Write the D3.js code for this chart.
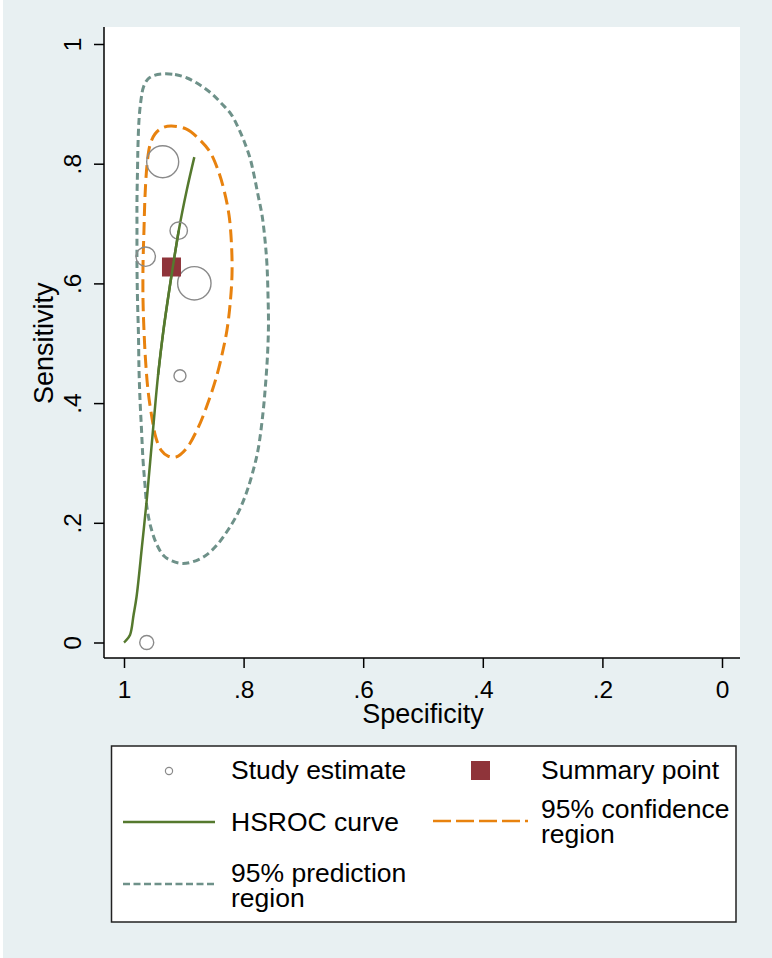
<!DOCTYPE html>
<html>
<head>
<meta charset="utf-8">
<script src="https://cdn.jsdelivr.net/npm/d3@7"></script>
<style>
  html, body { margin: 0; padding: 0; background: #ffffff; }
  svg { display: block; }
  text { font-family: "Liberation Sans", Arial, Helvetica, sans-serif; fill: #000; }
</style>
</head>
<body>
<svg id="chart" width="772" height="958"></svg>
<script>
// Individual study estimates: specificity, sensitivity and study weight (bubble area)
const studySpec = [0.9353, 0.9085, 0.9637, 0.8824, 0.9064, 0.9620];
const studySens = [0.8033, 0.6881, 0.6446, 0.6002, 0.4458, 0.0000];
const studyWeight = [25.6, 7.6, 9.4, 27.9, 3.6, 4.9];

// Summary operating point
const summarySpec = 0.9206;
const summarySens = 0.6274;

// HSROC curve
const hsrocSpec = [1.000, 0.9975, 0.990, 0.984, 0.979, 0.970, 0.962, 0.951, 0.943, 0.934, 0.920, 0.9085, 0.895, 0.8824];
const hsrocSens = [0.000, 0.0025, 0.0125, 0.046, 0.0765, 0.160, 0.238, 0.3606, 0.447, 0.522, 0.617, 0.688, 0.756, 0.811];

// 95% confidence region
const confSpec = [0.9214, 0.8963, 0.8729, 0.8562, 0.8428, 0.8328, 0.8244, 0.8202, 0.8194, 0.8227, 0.8278, 0.8344,
  0.8445, 0.8579, 0.8763, 0.8963, 0.9130, 0.9264, 0.9381, 0.9465, 0.9532, 0.9599, 0.9640, 0.9666, 0.9682,
  0.9682, 0.9666, 0.9649, 0.9615, 0.9565, 0.9482, 0.9365];
const confSens = [0.8630, 0.8580, 0.8396, 0.8196, 0.7895, 0.7561, 0.7143, 0.6642, 0.6140, 0.5639, 0.5221, 0.4887,
  0.4470, 0.4052, 0.3584, 0.3233, 0.3099, 0.3116, 0.3216, 0.3417, 0.3751, 0.4219, 0.4720, 0.5221, 0.5723,
  0.6307, 0.6892, 0.7444, 0.7978, 0.8312, 0.8496, 0.8596];

// 95% prediction region
const predSpec = [0.9365, 0.9147, 0.8946, 0.8729, 0.8528, 0.8361, 0.8211, 0.8094, 0.7993, 0.7893, 0.7826, 0.7759,
  0.7692, 0.7642, 0.7609, 0.7592, 0.7584, 0.7600, 0.7634, 0.7676, 0.7759, 0.7860, 0.7960, 0.8094, 0.8261,
  0.8445, 0.8645, 0.8863, 0.9030, 0.9197, 0.9331, 0.9448, 0.9548, 0.9615, 0.9649, 0.9682, 0.9707, 0.9732,
  0.9749, 0.9758, 0.9774, 0.9783, 0.9783, 0.9783, 0.9774, 0.9766, 0.9749, 0.9716, 0.9674, 0.9599, 0.9498];
const predSens = [0.9499, 0.9490, 0.9432, 0.9315, 0.9165, 0.8997, 0.8830, 0.8613, 0.8379, 0.8095, 0.7811, 0.7477,
  0.7143, 0.6725, 0.6307, 0.5806, 0.5305, 0.4804, 0.4302, 0.3835, 0.3216, 0.2799, 0.2481, 0.2164, 0.1880,
  0.1629, 0.1445, 0.1345, 0.1320, 0.1362, 0.1445, 0.1629, 0.1913, 0.2247, 0.2632, 0.3049, 0.3551, 0.4052,
  0.4553, 0.5138, 0.5723, 0.6307, 0.6892, 0.7393, 0.7895, 0.8312, 0.8730, 0.9064, 0.9282, 0.9415, 0.9474];

// Axis ticks
const xTicks = [1, 0.8, 0.6, 0.4, 0.2, 0];
const yTicks = [0, 0.2, 0.4, 0.6, 0.8, 1];
const tickLabel = v => (v === 0 ? "0" : v === 1 ? "1" : String(v).replace(/^0/, ""));

// Legend entries
const legendLabels = [["Study estimate"], ["Summary point"], ["HSROC curve"], ["95% confidence", "region"], ["95% prediction", "region"]];

const colors = {
  bg: "#e8f0f2",
  curve: "#55792e",
  conf: "#e8820e",
  pred: "#6e9189",
  summary: "#8f343a",
  study: "#8a8a8a"
};

const svg = d3.select("#chart");

// outer background
svg.append("rect").attr("x", 3).attr("y", 0).attr("width", 769).attr("height", 958).attr("fill", colors.bg);

// plot region
const plot = { left: 104, right: 740, top: 27, bottom: 658 };
svg.append("rect")
  .attr("x", plot.left).attr("y", plot.top)
  .attr("width", plot.right - plot.left).attr("height", plot.bottom - plot.top)
  .attr("fill", "#ffffff");

const x = d3.scaleLinear().domain([1, 0]).range([124, 722]);
const y = d3.scaleLinear().domain([0, 1]).range([642.5, 44]);
const r = d3.scaleSqrt().domain([0, d3.max(studyWeight)]).range([0, 16.7]);

// axes
const xAxis = d3.axisBottom(x).tickValues(xTicks).tickFormat(tickLabel).tickSize(10).tickSizeOuter(0);
const yAxis = d3.axisLeft(y).tickValues(yTicks).tickFormat(tickLabel).tickSize(10).tickSizeOuter(0);

const gx = svg.append("g").attr("transform", `translate(0,${plot.bottom})`).call(xAxis);
gx.select(".domain").remove();
gx.append("line").attr("x1", plot.left).attr("x2", plot.right).attr("y1", 0).attr("y2", 0)
  .attr("stroke", "#000").attr("stroke-width", 1.5);
gx.selectAll(".tick line").attr("stroke", "#000").attr("stroke-width", 1.5);
gx.selectAll(".tick text").attr("font-size", 24.5).attr("dy", null).attr("y", 40)
  .attr("font-family", "Liberation Sans, Arial, sans-serif").attr("fill", "#000");

const gy = svg.append("g").attr("transform", `translate(${plot.left},0)`).call(yAxis);
gy.select(".domain").remove();
gy.append("line").attr("x1", 0).attr("x2", 0).attr("y1", plot.top).attr("y2", plot.bottom)
  .attr("stroke", "#000").attr("stroke-width", 1.5);
gy.selectAll(".tick line").attr("stroke", "#000").attr("stroke-width", 1.5);
gy.selectAll(".tick text")
  .attr("font-size", 24.5).attr("font-family", "Liberation Sans, Arial, sans-serif").attr("fill", "#000")
  .attr("x", null).attr("dy", null)
  .attr("text-anchor", "middle")
  .attr("transform", "translate(-23,0) rotate(-90)");

// axis titles
svg.append("text").attr("x", 423).attr("y", 723).attr("text-anchor", "middle")
  .attr("font-size", 27).text("Specificity");
svg.append("text").attr("transform", `translate(53,${(y(0) + y(1)) / 2}) rotate(-90)`)
  .attr("text-anchor", "middle").attr("font-size", 27).text("Sensitivity");

// regions and curve
const toPts = (s, e) => s.map((v, i) => [x(v), y(e[i])]);
const closedLine = d3.line().curve(d3.curveCatmullRomClosed.alpha(0.5));
const openLine = d3.line().curve(d3.curveCatmullRom.alpha(0.5));

svg.append("path").attr("d", closedLine(toPts(predSpec, predSens)))
  .attr("fill", "none").attr("stroke", colors.pred).attr("stroke-width", 3)
  .attr("stroke-dasharray", "7,4");

svg.append("path").attr("d", closedLine(toPts(confSpec, confSens)))
  .attr("fill", "none").attr("stroke", colors.conf).attr("stroke-width", 3)
  .attr("stroke-dasharray", "13,6");

svg.append("path").attr("d", openLine(toPts(hsrocSpec, hsrocSens)))
  .attr("fill", "none").attr("stroke", colors.curve).attr("stroke-width", 2.5);

// study estimates
svg.append("g").selectAll("circle")
  .data(studySpec.map((s, i) => ({ s, e: studySens[i], w: studyWeight[i] })))
  .join("circle")
  .attr("cx", d => x(d.s)).attr("cy", d => y(d.e)).attr("r", d => r(d.w))
  .attr("fill", "none").attr("stroke", colors.study).attr("stroke-width", 1.4);

// summary point
svg.append("rect")
  .attr("x", x(summarySpec) - 9.5).attr("y", y(summarySens) - 9.5)
  .attr("width", 19).attr("height", 19).attr("fill", colors.summary);

// curve drawn again on top of the summary square
svg.append("path").attr("d", openLine(toPts(hsrocSpec, hsrocSens).slice(8, 12)))
  .attr("fill", "none").attr("stroke", colors.curve).attr("stroke-width", 2.5);

// legend
const lg = svg.append("g");
lg.append("rect").attr("x", 111.5).attr("y", 746).attr("width", 624.5).attr("height", 176)
  .attr("fill", "#ffffff").attr("stroke", "#222").attr("stroke-width", 1.5);

lg.append("circle").attr("cx", 169).attr("cy", 771).attr("r", 3.6)
  .attr("fill", "none").attr("stroke", colors.study).attr("stroke-width", 1.2);
lg.append("rect").attr("x", 471).attr("y", 761).attr("width", 19).attr("height", 19).attr("fill", colors.summary);
lg.append("line").attr("x1", 123).attr("x2", 215).attr("y1", 822).attr("y2", 822)
  .attr("stroke", colors.curve).attr("stroke-width", 2.5);
lg.append("line").attr("x1", 433).attr("x2", 528).attr("y1", 821).attr("y2", 821)
  .attr("stroke", colors.conf).attr("stroke-width", 2.5).attr("stroke-dasharray", "18,5");
lg.append("line").attr("x1", 123).attr("x2", 216).attr("y1", 884).attr("y2", 884)
  .attr("stroke", colors.pred).attr("stroke-width", 2.5).attr("stroke-dasharray", "7,3.5");

const legendPos = [[231, 779], [541, 779], [231, 831], [541, 818], [231, 882]];
legendLabels.forEach((lines, i) => {
  lines.forEach((ln, j) => {
    lg.append("text").attr("x", legendPos[i][0]).attr("y", legendPos[i][1] + j * 25)
      .attr("font-size", 26.5).text(ln);
  });
});
</script>
</body>
</html>
